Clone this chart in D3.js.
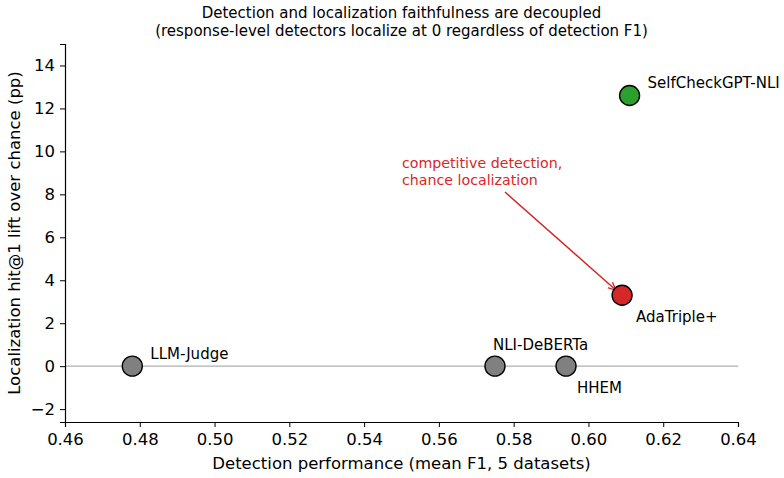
<!DOCTYPE html>
<html>
<head>
<meta charset="utf-8">
<script src="https://cdn.jsdelivr.net/npm/d3@7"></script>
<style>
  body { margin: 0; background: #fff; }
  text { font-family: "DejaVu Sans", sans-serif; }
</style>
</head>
<body>
<svg id="chart" width="784" height="478"></svg>
<script>
const methods = ["LLM-Judge", "NLI-DeBERTa", "HHEM", "AdaTriple+", "SelfCheckGPT-NLI"];
const detectionF1 = [0.478, 0.575, 0.594, 0.609, 0.611];
const hitLift = [0, 0, 0, 3.3, 12.6];
const dotColors = ["#808080", "#808080", "#808080", "#d62728", "#2ca02c"];
const xTicks = [0.46, 0.48, 0.50, 0.52, 0.54, 0.56, 0.58, 0.60, 0.62, 0.64];
const yTicks = [-2, 0, 2, 4, 6, 8, 10, 12, 14];

// label offsets in px relative to the dot
const labelOffsets = [[18, -7], [-2, -16], [11, 27], [14, 27], [18, -8]];

const svg = d3.select("#chart");
const margin = { left: 65, right: 46, top: 44, bottom: 56 };
const W = 784, H = 478;

const x = d3.scaleLinear().domain([0.46, 0.64]).range([margin.left, W - margin.right]);
const y = d3.scaleLinear().domain([-2.6, 15]).range([H - margin.bottom, margin.top]);
const midX = (x.range()[0] + x.range()[1]) / 2;

// title
svg.append("text").attr("x", midX).attr("y", 18)
  .attr("text-anchor", "middle").attr("font-size", 15)
  .text("Detection and localization faithfulness are decoupled");
svg.append("text").attr("x", midX).attr("y", 36)
  .attr("text-anchor", "middle").attr("font-size", 15)
  .text("(response-level detectors localize at 0 regardless of detection F1)");

// zero line
svg.append("line")
  .attr("x1", x.range()[0]).attr("x2", x.range()[1])
  .attr("y1", y(0)).attr("y2", y(0))
  .attr("stroke", "#b0b0b0").attr("stroke-width", 1.3);

// axes
const xAxis = svg.append("g")
  .attr("transform", `translate(0,${H - margin.bottom})`)
  .call(d3.axisBottom(x).tickValues(xTicks).tickFormat(d3.format(".2f")).tickSizeOuter(0).tickSize(5).tickPadding(4));
const yAxis = svg.append("g")
  .attr("transform", `translate(${margin.left},0)`)
  .call(d3.axisLeft(y).tickValues(yTicks).tickFormat(d => d < 0 ? "\u2212" + Math.abs(d) : d).tickSizeOuter(0).tickSize(5).tickPadding(5));

[xAxis, yAxis].forEach(g => {
  g.selectAll("text").attr("font-size", 16.5).attr("fill", "#000").style("font-family", "DejaVu Sans");
  g.selectAll("line").attr("stroke", "#000").attr("stroke-width", 1);
  g.select(".domain").attr("stroke", "#000").attr("stroke-width", 1.2);
});
xAxis.selectAll("text").attr("dy", "0.85em");

svg.append("text").attr("x", midX).attr("y", 469)
  .attr("text-anchor", "middle").attr("font-size", 16.5)
  .text("Detection performance (mean F1, 5 datasets)");
svg.append("text")
  .attr("transform", `translate(20,${(y.range()[0] + y.range()[1]) / 2}) rotate(-90)`)
  .attr("text-anchor", "middle").attr("font-size", 16.5)
  .text("Localization hit@1 lift over chance (pp)");

// annotation
const ai = methods.indexOf("AdaTriple+");
svg.append("defs").append("marker")
  .attr("id", "arrow").attr("viewBox", "0 0 10 10").attr("refX", 9).attr("refY", 5)
  .attr("markerWidth", 6).attr("markerHeight", 6).attr("orient", "auto")
  .append("path").attr("d", "M0,1 L9,5 L0,9").attr("fill", "none").attr("stroke", "#d62728").attr("stroke-width", 1.5);

const ann = svg.append("text").attr("fill", "#d62728").attr("font-size", 14.2);
ann.append("tspan").attr("x", 402).attr("y", 168).text("competitive detection,");
ann.append("tspan").attr("x", 402).attr("y", 185).text("chance localization");

svg.append("line")
  .attr("x1", 505).attr("y1", 192)
  .attr("x2", x(detectionF1[ai]) - 6).attr("y2", y(hitLift[ai]) - 5)
  .attr("stroke", "#d62728").attr("stroke-width", 1.5)
  .attr("marker-end", "url(#arrow)");

// dots
svg.append("g").selectAll("circle")
  .data(methods)
  .join("circle")
  .attr("cx", (d, i) => x(detectionF1[i]))
  .attr("cy", (d, i) => y(hitLift[i]))
  .attr("r", 10)
  .attr("fill", (d, i) => dotColors[i])
  .attr("stroke", "#000")
  .attr("stroke-width", 1.4);

svg.append("g").selectAll("text")
  .data(methods)
  .join("text")
  .attr("x", (d, i) => x(detectionF1[i]) + labelOffsets[i][0])
  .attr("y", (d, i) => y(hitLift[i]) + labelOffsets[i][1])
  .attr("font-size", 15)
  .text(d => d);
</script>
</body>
</html>
